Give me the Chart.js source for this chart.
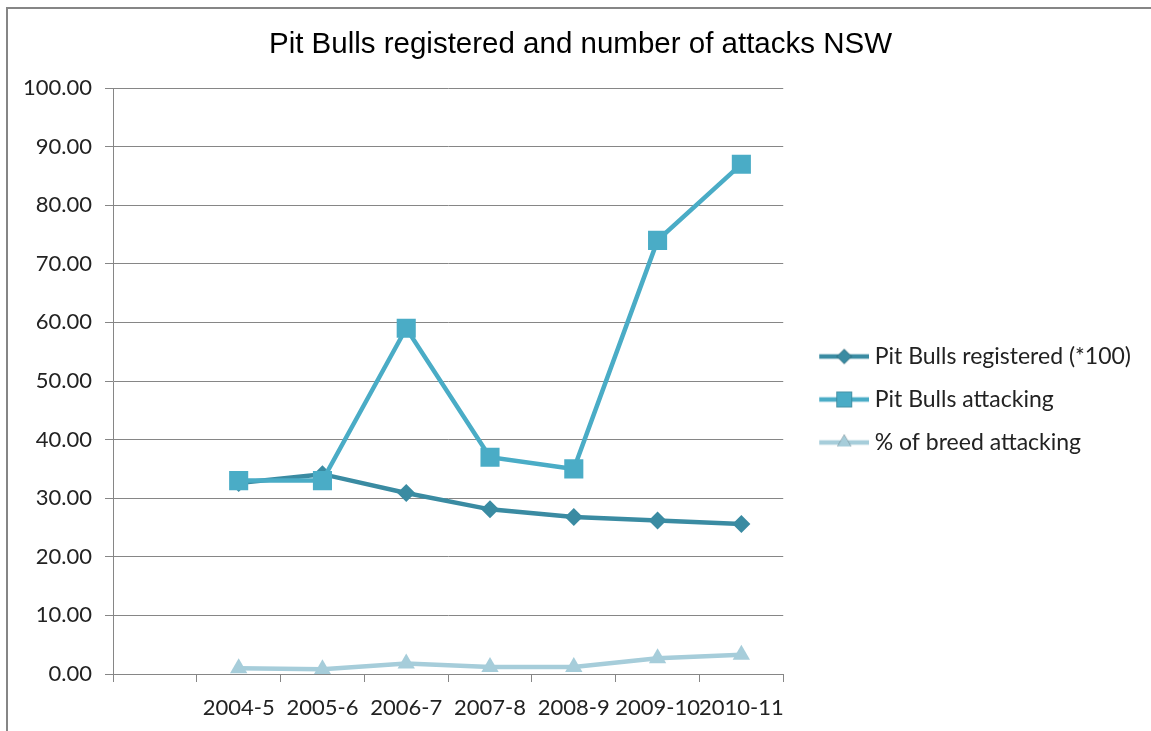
<!DOCTYPE html>
<html lang="en">
<head>
    <meta charset="UTF-8">
    <title>Pit Bulls registered and number of attacks NSW</title>
    <script src="https://cdn.jsdelivr.net/npm/chart.js@4.4.0/dist/chart.umd.min.js"></script>
    <style>
        body { margin: 0; background: #fff; }
    </style>
</head>
<body>
    <canvas id="pitChart" width="1151" height="731"></canvas>

    <script>
        // first category is left empty, like the original spreadsheet chart
        const years = ['', '2004-5', '2005-6', '2006-7', '2007-8', '2008-9', '2009-10', '2010-11'];
        const registered = [null, 32.6, 34.1, 30.9, 28.1, 26.8, 26.2, 25.6];
        const attacking = [null, 33, 33, 59, 37, 35, 74, 87];
        const breedPct = [null, 1.0, 0.8, 1.8, 1.2, 1.2, 2.7, 3.3];

        const COL_REG = '#3a8ba2';
        const COL_ATT = '#4aacc6';
        const COL_PCT = '#a6cdda';
        const TICK_FONT = { family: 'Lato', size: 22 };

        // little "line + marker" picture for the legend
        function legendIcon(color, style, radius) {
            const c = document.createElement('canvas');
            c.width = 72;
            c.height = 24;
            const ctx = c.getContext('2d');
            ctx.strokeStyle = color;
            ctx.lineWidth = 4.5;
            ctx.beginPath();
            ctx.moveTo(22, 12);
            ctx.lineTo(72, 12);
            ctx.stroke();
            Chart.helpers.drawPoint(ctx, {
                pointStyle: style, radius: radius, borderWidth: 0
            }, 47, 12);
            ctx.fillStyle = color;
            ctx.fill();
            return c;
        }

        const frame = {
            id: 'frame',
            beforeDraw(chart) {
                const ctx = chart.ctx;
                ctx.save();
                ctx.fillStyle = '#fff';
                ctx.fillRect(0, 0, chart.width, chart.height);
                ctx.fillStyle = '#868686';
                ctx.fillRect(6, 7, chart.width - 6, 2);
                ctx.fillRect(6, 7, 2, chart.height - 7);
                ctx.restore();
            }
        };

        function draw() {
            const ctx = document.getElementById('pitChart');
            new Chart(ctx, {
                type: 'line',
                data: {
                    labels: years,
                    datasets: [{
                        label: 'Pit Bulls registered (*100)',
                        data: registered,
                        borderColor: COL_REG,
                        backgroundColor: COL_REG,
                        borderWidth: 4.5,
                        pointStyle: 'rectRot',
                        pointRadius: 9,
                        pointBorderWidth: 0,
                        order: 3
                    }, {
                        label: 'Pit Bulls attacking',
                        data: attacking,
                        borderColor: COL_ATT,
                        backgroundColor: COL_ATT,
                        borderWidth: 4.5,
                        pointStyle: 'rect',
                        pointRadius: 13.5,
                        pointBorderWidth: 0,
                        order: 2
                    }, {
                        label: '% of breed attacking',
                        data: breedPct,
                        borderColor: COL_PCT,
                        backgroundColor: COL_PCT,
                        borderWidth: 4.5,
                        pointStyle: 'triangle',
                        pointRadius: 10,
                        pointBorderWidth: 0,
                        order: 1
                    }]
                },
                options: {
                    responsive: false,
                    animation: false,
                    layout: { padding: { left: 20, right: 10, top: 0, bottom: 0 } },
                    plugins: {
                        title: {
                            display: true,
                            text: 'Pit Bulls registered and number of attacks NSW',
                            color: '#000',
                            font: { family: 'Liberation Sans', size: 29.5, weight: 'normal' },
                            padding: { top: 27, bottom: 25.6 }
                        },
                        legend: {
                            position: 'right',
                            maxWidth: 368,
                            title: {
                                display: true,
                                text: ' ',
                                font: { size: 10 },
                                padding: { top: 33, bottom: 23 }
                            },
                            labels: {
                                color: '#222',
                                font: { family: 'Lato', size: 23 },
                                padding: 20,
                                usePointStyle: true,
                                pointStyleWidth: 60,
                                boxHeight: 22,
                                generateLabels(chart) {
                                    const shapes = [['rectRot', 7.5], ['rect', 11], ['triangle', 8]];
                                    return chart.data.datasets.map((ds, i) => ({
                                        text: ds.label,
                                        fillStyle: ds.borderColor,
                                        strokeStyle: ds.borderColor,
                                        lineWidth: 0,
                                        fontColor: '#222',
                                        pointStyle: legendIcon(ds.borderColor, shapes[i][0], shapes[i][1]),
                                        datasetIndex: i,
                                        hidden: false
                                    }));
                                }
                            }
                        },
                        tooltip: { enabled: false }
                    },
                    scales: {
                        x: {
                            offset: true,
                            border: { color: '#868686', width: 1 },
                            grid: {
                                offset: true,
                                drawOnChartArea: false,
                                drawTicks: true,
                                tickLength: 8,
                                color: '#868686'
                            },
                            ticks: {
                                color: '#222',
                                font: TICK_FONT,
                                padding: 13,
                                maxRotation: 0,
                                autoSkip: false
                            },
                            afterFit(scale) { scale.height = 57; }
                        },
                        y: {
                            min: 0,
                            max: 100,
                            border: { color: '#868686', width: 1 },
                            grid: {
                                color: '#868686',
                                tickLength: 8
                            },
                            ticks: {
                                stepSize: 10,
                                color: '#222',
                                font: TICK_FONT,
                                padding: 13,
                                callback: v => v.toFixed(2)
                            },
                            afterFit(scale) { scale.width = 93; }
                        }
                    }
                },
                plugins: [frame]
            });
        }

        Promise.all([
            document.fonts.load('22px Lato'),
            document.fonts.load('30px "Liberation Sans"')
        ]).then(draw, draw);
    </script>
</body>
</html>
